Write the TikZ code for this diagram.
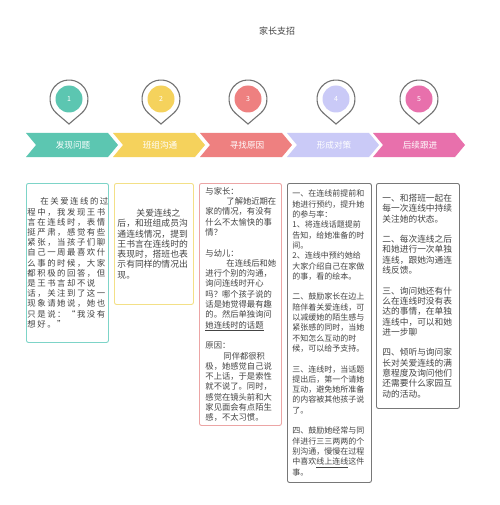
\documentclass[tikz,border=0pt]{standalone}
\usepackage{fontspec}
\setmainfont{Noto Sans CJK SC}
\newfontfamily\cjkwide[LetterSpace=18]{Noto Sans CJK SC}
\usetikzlibrary{calc}
\definecolor{cA}{RGB}{92,198,177}
\definecolor{cB}{RGB}{245,210,92}
\definecolor{cC}{RGB}{238,128,128}
\definecolor{cD}{RGB}{202,202,247}
\definecolor{cE}{RGB}{232,112,172}
\definecolor{bA}{RGB}{125,212,200}
\definecolor{bB}{RGB}{243,224,135}
\definecolor{bC}{RGB}{236,165,165}
\definecolor{bG}{RGB}{120,120,120}
\definecolor{pingray}{RGB}{115,115,115}
\definecolor{txt}{RGB}{68,68,68}
\tikzset{
  chevshape/.style={fill=#1, draw=none},
  chevlabel/.style={text=white, font=\fontsize{8.6}{10}\selectfont, inner sep=0pt},
  pinring/.style={draw=pingray, line width=1.1pt, fill=white},
  pindot/.style={circle, fill=#1, minimum size=27pt, inner sep=0pt, text=white, font=\fontsize{7}{8}\selectfont},
  infobox/.style={draw=#1, rounded corners=2pt, line width=0.9pt, anchor=north west, align=left, text=txt, inner ysep=0pt},
}
\newcommand{\mypin}[4]{%
  \path[pinring] (#1,124) -- ($(#1,99)+(130.5:19)$) arc[start angle=130.5, end angle=409.5, radius=19] -- cycle;
  \node[pindot=#3] (#2) at (#1,99) {#4};
}
\newcommand{\mychev}[4]{%
  \fill[chevshape=#2] (#1,133) -- ++(82,0) -- ++(10,12) -- ++(-10,12) -- ++(-82,0) -- ++(10,-12) -- cycle;
  \node[chevlabel] (#3) at (#1+47,145.5) {#4};
}
\begin{document}
\begin{tikzpicture}[x=1pt,y=-1pt]
\useasboundingbox (0,0) rectangle (499,505);
\fill[white] (0,0) rectangle (499,505);
\node[text=txt, font=\fontsize{9}{10}\selectfont] (title) at (277,31) {家长支招};

\mypin{69}{p1}{cA}{1}
\mypin{161}{p2}{cB}{2}
\mypin{248}{p3}{cC}{3}
\mypin{336}{p4}{cD}{4}
\mypin{419}{p5}{cE}{5}

\mychev{26}{cA}{c1}{发现问题}
\mychev{113}{cB}{c2}{班组沟通}
\mychev{200}{cC}{c3}{寻找原因}
\mychev{287}{cD}{c4}{形成对策}
\mychev{373}{cE}{c5}{后续跟进}

\node[infobox=bA, text width=80pt, inner xsep=1pt, minimum height=159pt,
      font=\cjkwide\fontsize{8.4}{10.2}\selectfont] (b1) at (26,183) {%
\hspace*{13pt}在关爱连线的过\\
程中，我发现王书\\
言在连线时，表情\\
挺严肃，感觉有些\\
紧张，当孩子们聊\\
自己一周最喜欢什\\
么事的时候，大家\\
都积极的回答，但\\
是王书言却不说\\
话，关注到了这一\\
现象请她说，她也\\
只是说：“我没有\\
想好。”};

\node[infobox=bB, text width=73pt, inner xsep=3pt, minimum height=121pt,
      font=\fontsize{8.8}{10.3}\selectfont] (b2) at (114,183) {%
\hspace*{19pt}关爱连线之\\
后，和班组成员沟\\
通连线情况，提到\\
王书言在连线时的\\
表现时，搭班也表\\
示有同样的情况出\\
现。};

\node[infobox=bC, text width=70pt, inner xsep=6pt, minimum height=242pt,
      font=\fontsize{8.3}{10.3}\selectfont] (b3) at (199,183) {%
与家长：\\
\hspace*{21pt}了解她近期在\\
家的情况，有没有\\
什么不太愉快的事\\
情？\\[10.3pt]
与幼儿：\\
\hspace*{21pt}在连线后和她\\
进行个别的沟通，\\
询问连线时开心\\
吗？哪个孩子说的\\
话是她觉得最有趣\\
的。然后单独询问\\
\underline{她连线时的话题}\\[10.3pt]
原因：\\
\hspace*{18pt}同伴都很积\\
极，她感觉自己说\\
不上话，于是索性\\
就不说了。同时，\\
感觉在镜头前和大\\
家见面会有点陌生\\
感，不太习惯。};

\node[infobox=bG, text width=74pt, inner xsep=5pt, minimum height=299pt,
      font=\fontsize{8}{10.3}\selectfont] (b4) at (287,183) {%
一、在连线前提前和\\
她进行预约，提升她\\
的参与率：\\
1、将连线话题提前\\
告知，给她准备的时\\
间。\\
2、连线中预约她给\\
大家介绍自己在家做\\
的事，看的绘本。\\[10.3pt]
二、鼓励家长在边上\\
陪伴着关爱连线，可\\
以减缓她的陌生感与\\
紧张感的同时，当她\\
不知怎么互动的时\\
候，可以给予支持。\\[10.3pt]
三、连线时，当话题\\
提出后，第一个请她\\
互动，避免她所准备\\
的内容被其他孩子说\\
了。\\[10.3pt]
四、鼓励她经常与同\\
伴进行三三两两的个\\
别沟通，慢慢在过程\\
中喜欢\underline{线上连线}这件\\
事。};

\node[infobox=bG, text width=71pt, inner xsep=6pt, minimum height=225pt,
      font=\fontsize{8.7}{10.3}\selectfont] (b5) at (376,183) {%
一、和搭班一起在\\
每一次连线中持续\\
关注她的状态。\\[10.3pt]
二、每次连线之后\\
和她进行一次单独\\
连线，跟她沟通连\\
线反馈。\\[10.3pt]
三、询问她还有什\\
么在连线时没有表\\
达的事情，在单独\\
连线中，可以和她\\
进一步聊\\[10.3pt]
四、倾听与询问家\\
长对关爱连线的满\\
意程度及询问他们\\
还需要什么家园互\\
动的活动。};
\end{tikzpicture}
\end{document}
